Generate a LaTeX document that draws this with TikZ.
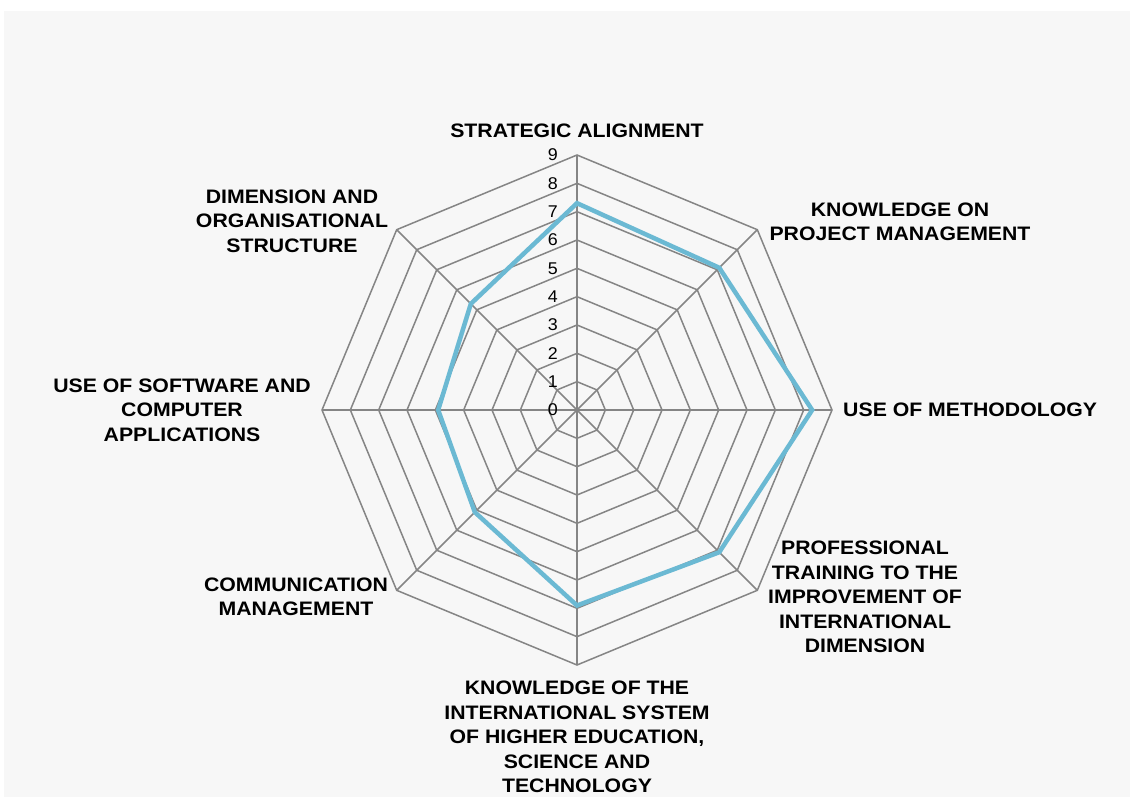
\documentclass[tikz,border=0pt]{standalone}
\usepackage{fontspec}
\setmainfont{Liberation Sans}
\usetikzlibrary{calc}
\definecolor{panel}{HTML}{F7F7F7}
\definecolor{gridgrey}{HTML}{858585}
\definecolor{seriesblue}{HTML}{6BB9D3}
\begin{document}
\begin{tikzpicture}[x=1pt,y=-1pt,
  lab/.style={font=\bfseries\fontsize{19.5}{24.5}\selectfont, align=center, inner sep=0pt, xscale=1.09},
  tick/.style={font=\fontsize{17}{17}\selectfont, anchor=east, inner sep=0pt, xscale=1.05},
  gridline/.style={draw=gridgrey, line width=1.5pt},
  axisline/.style={draw=gridgrey, line width=1.5pt},
  series/.style={draw=seriesblue, line width=4.5pt, line join=miter}]
\useasboundingbox (0,0) rectangle (1130,800);
\fill[white] (0,0) rectangle (1130,800);
\fill[panel] (4,11) rectangle (1130,797);
\coordinate (c) at (577,410);
% rings
\foreach \k in {1,...,9}{
  \pgfmathsetmacro\r{\k*28.333}
  \draw[gridline,shift={(c)}] (90:\r pt) -- (45:\r pt) -- (0:\r pt) -- (-45:\r pt)
     -- (-90:\r pt) -- (-135:\r pt) -- (180:\r pt) -- (135:\r pt) -- cycle;
}
% spokes
\foreach \i in {0,...,7}{
  \pgfmathsetmacro\a{90-45*\i}
  \draw[axisline,shift={(c)}] (0,0) -- (\a:255pt);
}
\draw[draw=gridgrey,line width=2.2pt,shift={(c)}] (0,0) -- (90:255pt);
% series
\draw[series,shift={(c)}] (90:7.3*28.333pt) -- (45:7.1*28.333pt) -- (0:8.3*28.333pt)
  -- (-45:7.1*28.333pt) -- (-90:6.9*28.333pt) -- (-135:5.1*28.333pt)
  -- (180:4.9*28.333pt) -- (135:5.3*28.333pt) -- cycle;
% ticks
\foreach \k in {0,...,9}{
  \node[tick] (t\k) at ($(c)+(-19,-\k*28.333)$) {\k};
}
% labels
\node[lab] (sa) at (577,131) {STRATEGIC ALIGNMENT};
\node[lab] (kp) at (900,222) {KNOWLEDGE ON\\PROJECT MANAGEMENT};
\node[lab,anchor=west] (um) at (843,410) {USE OF METHODOLOGY};
\node[lab] (pt) at (865,597) {PROFESSIONAL\\TRAINING TO THE\\IMPROVEMENT OF\\INTERNATIONAL\\DIMENSION};
\node[lab] (ki) at (577,737) {KNOWLEDGE OF THE\\INTERNATIONAL SYSTEM\\OF HIGHER EDUCATION,\\SCIENCE AND\\TECHNOLOGY};
\node[lab] (cm) at (296,597) {COMMUNICATION\\MANAGEMENT};
\node[lab] (us) at (182,410) {USE OF SOFTWARE AND\\COMPUTER\\APPLICATIONS};
\node[lab] (do) at (292,221) {DIMENSION AND\\ORGANISATIONAL\\STRUCTURE};
\end{tikzpicture}
\end{document}
